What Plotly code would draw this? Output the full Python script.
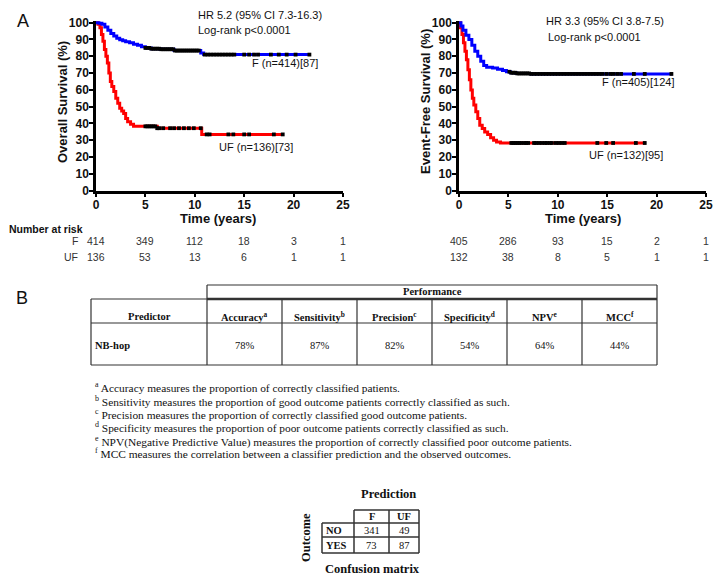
import plotly.graph_objects as go

# ---------------- DATA ----------------
# Panel A, Overall survival (left)
os_f_time = [0, 0.3, 0.6, 0.9, 1.2, 1.5, 1.8, 2.1, 2.4, 2.7, 3.0, 3.4, 3.8, 4.2, 4.6, 5.0, 5.6, 6.5, 7.9, 10.6, 10.9, 21.6]
os_f_surv = [100, 99.7, 99, 97.5, 95.5, 93.5, 92, 90.8, 89.8, 89.2, 88.6, 88, 87.2, 86.5, 85.7, 85, 84.5, 84.2, 83.4, 82, 81, 81]
os_uf_time = [0, 0.2, 0.4, 0.55, 0.7, 0.85, 1.0, 1.15, 1.3, 1.45, 1.6, 1.8, 2.0, 2.2, 2.4, 2.6, 2.8, 3.0, 3.2, 3.5, 3.8, 6.2, 10.7, 18.9]
os_uf_surv = [100, 99, 97, 93, 89, 84, 80, 76, 70, 65, 62, 59, 55, 52, 49, 47.5, 46, 43, 41, 39.5, 38.3, 37.2, 33.5, 33.5]
os_f_cens = [5.0, 5.2, 5.4, 5.6, 5.8, 6.0, 6.2, 6.4, 6.6, 6.8, 7.0, 7.2, 7.4, 7.6, 7.8, 8.0, 8.2, 8.4, 8.6, 8.8, 9.0, 9.2,
             9.4, 9.6, 9.8, 10.0, 10.2, 10.4, 11.0, 11.3, 11.6, 11.9, 12.2, 12.5, 12.8, 13.1, 13.4, 13.7, 14.0,
             15.0, 15.5, 16.0, 16.4, 17.7, 18.5, 19.3, 20.2, 21.6]
os_uf_cens = [5.0, 5.2, 5.4, 5.6, 5.8, 6.0, 6.2, 6.4, 6.8, 7.5, 7.9, 8.4, 8.9, 9.4, 9.9, 10.6,
              11.2, 11.5, 13.4, 13.9, 15.0, 15.5, 18.0, 18.9]

# Event-free survival (right)
efs_f_time = [0, 0.2, 0.4, 0.7, 1.0, 1.3, 1.6, 1.9, 2.2, 2.5, 2.8, 3.4, 3.9, 4.4, 4.8, 5.2, 5.8, 7.3, 21.6]
efs_f_surv = [100, 98, 95.5, 92.5, 90, 86.5, 83, 80, 77, 74.5, 73.5, 73, 72.3, 71.5, 70.8, 70.2, 69.8, 69.5, 69.5]
efs_uf_time = [0, 0.15, 0.3, 0.45, 0.6, 0.75, 0.9, 1.05, 1.2, 1.35, 1.5, 1.7, 1.9, 2.1, 2.35, 2.6, 2.9, 3.2, 3.5, 3.8, 4.2, 18.9]
efs_uf_surv = [100, 97, 93, 88, 83, 78, 72, 66, 60, 55, 51, 47, 43, 39, 37, 35, 33.5, 31.5, 30, 29, 28.4, 28.4]
efs_f_cens = [5.1, 5.3, 5.5, 5.7, 5.9, 6.1, 6.3, 6.5, 6.7, 6.9, 7.1, 7.3, 7.6, 7.9, 8.2, 8.5, 8.8, 9.1, 9.4, 9.7,
              10.0, 10.3, 10.6, 10.9, 11.2, 11.5, 11.8, 12.1, 12.4, 12.7, 13.0, 13.3, 13.6, 13.9, 14.2, 14.5,
              14.9, 15.3, 15.6, 16.0, 16.4, 17.7, 18.8, 21.5]
efs_uf_cens = [5.3, 5.5, 5.7, 5.9, 6.1, 6.3, 6.6, 6.8, 7.0, 7.6, 7.8, 8.1, 8.4, 8.7, 8.9, 9.2, 9.4, 9.8, 10.1,
               10.4, 10.7, 14.0, 14.9, 15.6, 17.9, 18.8]

risk_times = [0, 5, 10, 15, 20, 25]
os_risk_f = [414, 349, 112, 18, 3, 1]
os_risk_uf = [136, 53, 13, 6, 1, 1]
efs_risk_f = [405, 286, 93, 15, 2, 1]
efs_risk_uf = [132, 38, 8, 5, 1, 1]

# Panel B table
metrics = ["Accuracy", "Sensitivity", "Precision", "Specificity", "NPV", "MCC"]
metric_sups = ["a", "b", "c", "d", "e", "f"]
predictor_name = "NB-hop"
metric_values = ["78%", "87%", "82%", "54%", "64%", "44%"]
footnotes = [
    "Accuracy measures the proportion of correctly classified patients.",
    "Sensitivity measures the proportion of good outcome patients correctly classified as such.",
    "Precision measures the proportion of correctly classified good outcome patients.",
    "Specificity measures the proportion of poor outcome patients correctly classified as such.",
    "NPV(Negative Predictive Value) measures the proportion of correctly classified poor outcome patients.",
    "MCC measures the correlation between a classifier prediction and the observed outcomes.",
]
cm_cols = ["F", "UF"]
cm_rows = ["NO", "YES"]
cm_vals = [[341, 49], [73, 87]]

# ---------------- LAYOUT HELPERS ----------------
OFF = 8                      # page body margin
W, H = 721 - OFF, 581 - OFF  # visible figure area
SANS = "Liberation Sans, Arial, sans-serif"
SERIF = "Liberation Serif, Times New Roman, serif"
INK = "#111111"


def X(px):
    return (px - OFF) / W


def Y(py):
    return 1 - (py - OFF) / H


def step_at(times, surv, t):
    val = surv[0]
    for ti, si in zip(times, surv):
        if ti <= t:
            val = si
    return val


fig = go.Figure()
annotations = []
shapes = []


def ann(text, px, py, size=11, family=SANS, bold=False, xanchor="center", angle=0, color=INK, xref=None, x=None):
    annotations.append(dict(
        text=text, x=(x if x is not None else X(px)), y=Y(py),
        xref=(xref or "paper"), yref="paper", showarrow=False,
        xanchor=xanchor, yanchor="middle", textangle=angle,
        font=dict(size=size, family=family, color=color, weight=("bold" if bold else "normal")),
    ))


def line(x0, y0, x1, y1, w=1.2, color="#333"):
    shapes.append(dict(type="line", xref="paper", yref="paper",
                       x0=X(x0), y0=Y(y0), x1=X(x1), y1=Y(y1),
                       line=dict(color=color, width=w)))


# ---------------- KM CURVES ----------------
panels = [
    ("x", "y", os_f_time, os_f_surv, os_f_cens, os_uf_time, os_uf_surv, os_uf_cens),
    ("x2", "y2", efs_f_time, efs_f_surv, efs_f_cens, efs_uf_time, efs_uf_surv, efs_uf_cens),
]
for xa, ya, ft, fs, fc, ut, us, uc in panels:
    fig.add_trace(go.Scatter(x=ut, y=us, mode="lines", line=dict(color="#ff0000", width=3, shape="hv"),
                             xaxis=xa, yaxis=ya, showlegend=False, hoverinfo="skip"))
    fig.add_trace(go.Scatter(x=ft, y=fs, mode="lines", line=dict(color="#0000ff", width=3, shape="hv"),
                             xaxis=xa, yaxis=ya, showlegend=False, hoverinfo="skip"))
    for times, surv, cens in ((ft, fs, fc), (ut, us, uc)):
        fig.add_trace(go.Scatter(
            x=cens, y=[step_at(times, surv, c) for c in cens], mode="markers",
            marker=dict(symbol="square", size=3.8, color="black", line=dict(width=0)),
            xaxis=xa, yaxis=ya, showlegend=False, hoverinfo="skip", cliponaxis=False))

axis_common = dict(showline=True, linecolor="black", linewidth=2.5, ticks="outside", ticklen=4,
                   tickwidth=2, tickcolor="black", showgrid=False, zeroline=False, automargin=False,
                   tickfont=dict(family=SANS, size=12, color=INK, weight="bold"))
y_bottom, y_top = 190.7, 21.0
fig.update_layout(
    xaxis=dict(domain=[X(96), X(343)], range=[0, 25], dtick=5, anchor="y", ticklabelstandoff=-3, **axis_common),
    yaxis=dict(domain=[Y(y_bottom), Y(y_top)], range=[0, 101], tickvals=list(range(0, 101, 10)),
               anchor="x", ticklabelstandoff=-2, **axis_common),
    xaxis2=dict(domain=[X(459), X(706)], range=[0, 25], dtick=5, anchor="y2", ticklabelstandoff=-3, **axis_common),
    yaxis2=dict(domain=[Y(y_bottom), Y(y_top)], range=[0, 101], tickvals=list(range(0, 101, 10)),
                anchor="x2", ticklabelstandoff=-2, **axis_common),
)

# axis titles and texts for panel A
ann("A", 23, 21, size=18)
ann("Overall Survival (%)", 62, 102, size=13, bold=True, angle=-90)
ann("Event-Free Survival (%)", 425, 102, size=13, bold=True, angle=-90)
ann("Time (years)", 218, 218, size=13, bold=True)
ann("Time (years)", 583, 218, size=13, bold=True)
ann("HR 5.2 (95% CI 7.3-16.3)", 196, 15, size=11, xanchor="left")
ann("Log-rank p<0.0001", 196, 30, size=11, xanchor="left")
ann("HR 3.3 (95% CI 3.8-7.5)", 544, 21, size=11, xanchor="left")
ann("Log-rank p<0.0001", 546, 37, size=11, xanchor="left")
ann("F (n=414)[87]", 250, 63, size=11, xanchor="left")
ann("UF (n=136)[73]", 217, 147, size=11, xanchor="left")
ann("F (n=405)[124]", 600, 82, size=11, xanchor="left")
ann("UF (n=132)[95]", 587, 155, size=11, xanchor="left")

# Number at risk
ann("Number at risk", 7, 229, size=10.5, bold=True, xanchor="left")
ann("F", 80, 241, size=10.5, xanchor="right", color="#333")
ann("UF", 80, 257, size=10.5, xanchor="right", color="#333")
for xa, rf, ru in (("x", os_risk_f, os_risk_uf), ("x2", efs_risk_f, efs_risk_uf)):
    for t, a, b in zip(risk_times, rf, ru):
        ann(str(a), 0, 241, size=10.5, xref=xa, x=t, color="#333")
        ann(str(b), 0, 257, size=10.5, xref=xa, x=t, color="#333")

# ---------------- PANEL B TABLE ----------------
ann("B", 22, 298, size=18)
cols = [91, 207, 282, 357, 432, 507, 582, 657]
t_top, t_mid, t_hdr, t_bot = 285, 299, 323, 365
line(207, t_top, 657, t_top)
line(207, t_top, 207, t_mid)
line(657, t_top, 657, t_mid)
line(91, t_mid, 207, t_mid)
line(207, t_mid, 657, t_mid, w=2.4)
line(91, t_hdr, 657, t_hdr)
line(91, t_bot, 657, t_bot)
for c in cols:
    line(c, t_mid, c, t_bot)
ann("Performance", 432, 292, size=10.5, family=SERIF, bold=True)
ann("Predictor", 149, 316, size=10.5, family=SERIF, bold=True)
ann(predictor_name, 93, 345, size=10.5, family=SERIF, bold=True, xanchor="left")
for i, (m, s, v) in enumerate(zip(metrics, metric_sups, metric_values)):
    cx = (cols[i + 1] + cols[i + 2]) / 2
    ann(f"{m}<sup>{s}</sup>", cx, 316, size=10.5, family=SERIF, bold=True)
    ann(v, cx, 345, size=10.5, family=SERIF)

foot_y = [387, 401, 414, 427, 441, 453]
for s, txt, fy in zip(metric_sups, footnotes, foot_y):
    ann(f"<sup>{s}</sup> {txt}", 93, fy, size=11.4, family=SERIF, xanchor="left")

# ---------------- CONFUSION MATRIX ----------------
cm_x = [322, 354, 389, 419]
cm_y = [510, 523, 537, 553]
line(cm_x[1], cm_y[0], cm_x[3], cm_y[0], w=1.5)
for yy in cm_y[1:]:
    line(cm_x[0], yy, cm_x[3], yy, w=1.5)
line(cm_x[0], cm_y[1], cm_x[0], cm_y[3], w=1.5)
for xx in cm_x[1:]:
    line(xx, cm_y[0], xx, cm_y[3], w=1.5)
ann("Prediction", 388, 494, size=12.5, family=SERIF, bold=True)
ann("Outcome", 306, 538, size=12.5, family=SERIF, bold=True, angle=-90)
ann("Confusion matrix", 372, 569, size=12.5, family=SERIF, bold=True)
for j, cname in enumerate(cm_cols):
    ann(cname, (cm_x[j + 1] + cm_x[j + 2]) / 2, (cm_y[0] + cm_y[1]) / 2, size=10.5, family=SERIF, bold=True)
for i, rname in enumerate(cm_rows):
    ry = (cm_y[i + 1] + cm_y[i + 2]) / 2
    ann(rname, cm_x[0] + 2, ry, size=10.5, family=SERIF, bold=True, xanchor="left")
    for j in range(len(cm_cols)):
        ann(str(cm_vals[i][j]), (cm_x[j + 1] + cm_x[j + 2]) / 2, ry, size=10.5, family=SERIF)

fig.update_layout(
    width=W, height=H, margin=dict(l=0, r=0, t=0, b=0, autoexpand=False),
    paper_bgcolor="white", plot_bgcolor="white",
    annotations=annotations, shapes=shapes, showlegend=False,
)
fig.write_html("out.html")
